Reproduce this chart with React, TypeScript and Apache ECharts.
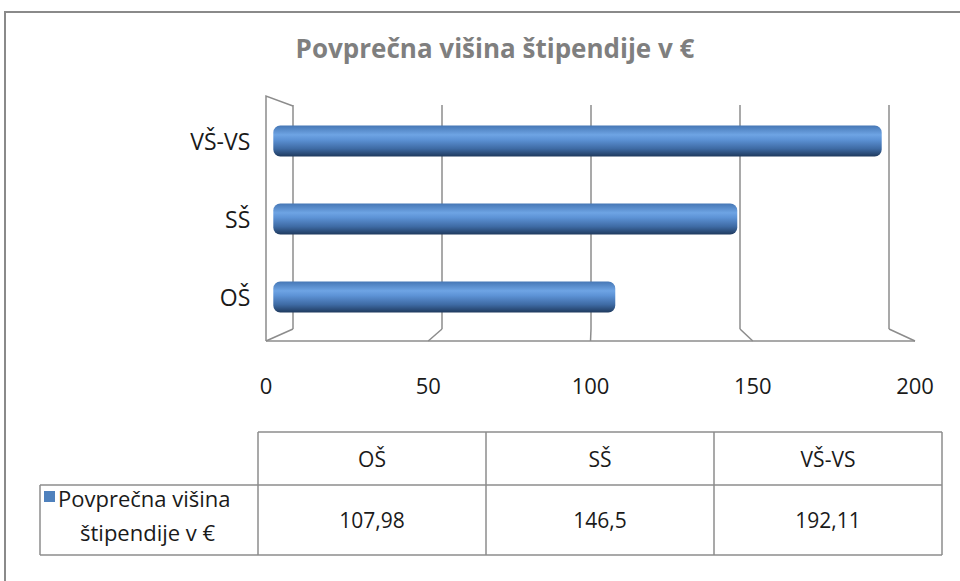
import React, { useEffect, useRef } from "react";
import * as echarts from "echarts";

const categories = ["OŠ", "SŠ", "VŠ-VS"];
const values = [107.98, 146.5, 192.11];
const xTicks = [0, 50, 100, 150, 200];
const seriesName = "Povprečna višina štipendije v €";
const legendLines = ["Povprečna višina", "štipendije v €"];
const titleText = "Povprečna višina štipendije v €";

const FONT = "'Open Sans', 'Noto Sans', sans-serif";
const TITLE_FONT = "'Open Sans', 'Noto Sans', sans-serif";
const GRID_COLOR = "#8c8c8c";

// 3D plot geometry
const BACK_L = 293, BACK_R = 889, TOP = 105, BACK_B = 329;
const FRONT_L = 266, FRONT_R = 915, FRONT_B = 341;
const WALL_TOP = 96;

const fmt = (v: number) => String(v).replace(".", ",");

export default function App() {
  const ref = useRef<HTMLDivElement>(null);
  useEffect(() => {
    if (!ref.current) return;
    const chart = echarts.init(ref.current, null, { renderer: "svg" });
    const xmax = xTicks[xTicks.length - 1];
    const backX = (v: number) => BACK_L + ((BACK_R - BACK_L) * v) / xmax;
    const frontX = (v: number) => FRONT_L + ((FRONT_R - FRONT_L) * v) / xmax;
    const lineStyle = { stroke: GRID_COLOR, lineWidth: 1.5 };

    const graphics: any[] = [];
    // outer frame
    graphics.push({ type: "rect", shape: { x: 5, y: 12, width: 1000, height: 620 }, style: { fill: "none", stroke: "#8a8a8a", lineWidth: 2 }, silent: true });
    // left wall
    graphics.push({ type: "polyline", shape: { points: [[BACK_L, TOP + 1], [FRONT_L, WALL_TOP], [FRONT_L, FRONT_B]] }, style: { ...lineStyle, fill: "none" } });
    // floor line
    graphics.push({ type: "line", shape: { x1: FRONT_L, y1: FRONT_B, x2: FRONT_R, y2: FRONT_B }, style: lineStyle });
    // diagonals from back to front
    xTicks.forEach((v) => {
      graphics.push({ type: "line", shape: { x1: backX(v), y1: BACK_B, x2: frontX(v), y2: FRONT_B }, style: lineStyle });
    });

    // data table
    const tL = 40, tC0 = 258, tR = 942, tTop = 432, tMid = 485, tBot = 555;
    const colW = (tR - tC0) / categories.length;
    const tStyle = { stroke: GRID_COLOR, lineWidth: 1.5 };
    graphics.push({ type: "line", shape: { x1: tC0, y1: tTop, x2: tR, y2: tTop }, style: tStyle });
    graphics.push({ type: "line", shape: { x1: tL, y1: tMid, x2: tR, y2: tMid }, style: tStyle });
    graphics.push({ type: "line", shape: { x1: tL, y1: tBot, x2: tR, y2: tBot }, style: tStyle });
    graphics.push({ type: "line", shape: { x1: tL, y1: tMid, x2: tL, y2: tBot }, style: tStyle });
    for (let i = 0; i <= categories.length; i++) {
      const x = tC0 + colW * i;
      graphics.push({ type: "line", shape: { x1: x, y1: tTop, x2: x, y2: tBot }, style: tStyle });
    }
    categories.forEach((c, i) => {
      const cx = tC0 + colW * (i + 0.5);
      graphics.push({ type: "text", x: cx, y: (tTop + tMid) / 2, style: { text: c, font: `21px ${FONT}`, fill: "#1a1a1a", align: "center", verticalAlign: "middle" } });
      graphics.push({ type: "text", x: cx, y: (tMid + tBot) / 2, style: { text: fmt(values[i]), font: `21px ${FONT}`, fill: "#1a1a1a", align: "center", verticalAlign: "middle" } });
    });
    graphics.push({ type: "rect", shape: { x: 44, y: 491, width: 11, height: 11 }, style: { fill: "#4f81bd" } });
    graphics.push({ type: "text", x: 58, y: 498, style: { text: legendLines[0], font: `22px ${FONT}`, fill: "#1a1a1a", align: "left", verticalAlign: "middle" } });
    graphics.push({ type: "text", x: 80, y: 532, style: { text: legendLines[1], font: `22px ${FONT}`, fill: "#1a1a1a", align: "left", verticalAlign: "middle" } });

    const barGradient = new echarts.graphic.LinearGradient(0, 0, 0, 1, [
      { offset: 0, color: "#4677b5" },
      { offset: 0.3, color: "#6ea4e4" },
      { offset: 0.45, color: "#5d93d6" },
      { offset: 0.75, color: "#3e6aa3" },
      { offset: 1, color: "#1f3a5e" },
    ]);

    chart.setOption({
      animation: false,
      title: {
        text: titleText,
        left: 490,
        top: 30,
        textAlign: "center",
        textStyle: { fontFamily: TITLE_FONT, fontWeight: "bold", fontSize: 26, color: "#7f7f7f" },
      },
      grid: [
        // back plane (gridlines)
        { left: BACK_L, top: TOP, width: BACK_R - BACK_L, height: BACK_B - TOP },
        // bars
        { left: 273.3, top: 102, width: 633.4, height: 234 },
        // front plane (axis labels)
        { left: FRONT_L, top: TOP, width: FRONT_R - FRONT_L, height: FRONT_B - TOP },
      ],
      xAxis: [
        { gridIndex: 0, type: "value", min: 0, max: 200, interval: 50, axisLabel: { show: false }, axisLine: { show: false }, axisTick: { show: false }, splitLine: { show: true, lineStyle: { color: GRID_COLOR, width: 1.5 } } },
        { gridIndex: 1, type: "value", min: 0, max: 200, interval: 50, show: false },
        { gridIndex: 2, type: "value", min: 0, max: 200, interval: 50, axisLine: { show: false }, axisTick: { show: false }, splitLine: { show: false }, axisLabel: { margin: 33, fontSize: 22, fontFamily: FONT, color: "#1a1a1a" } },
      ],
      yAxis: [
        { gridIndex: 0, type: "category", data: categories, show: false },
        { gridIndex: 1, type: "category", data: categories, axisLine: { show: false }, axisTick: { show: false }, axisLabel: { margin: 23, fontSize: 23, fontFamily: FONT, color: "#1a1a1a" } },
        { gridIndex: 2, type: "category", data: categories, show: false },
      ],
      series: [
        {
          name: seriesName,
          type: "bar",
          xAxisIndex: 1,
          yAxisIndex: 1,
          data: values,
          barWidth: 31,
          itemStyle: { color: barGradient, borderRadius: 7 },
        },
      ],
      graphic: graphics,
    });
    return () => chart.dispose();
  }, []);
  return <div ref={ref} style={{ position: "fixed", left: 0, top: 0, width: 960, height: 581, background: "#fff" }} />;
}
